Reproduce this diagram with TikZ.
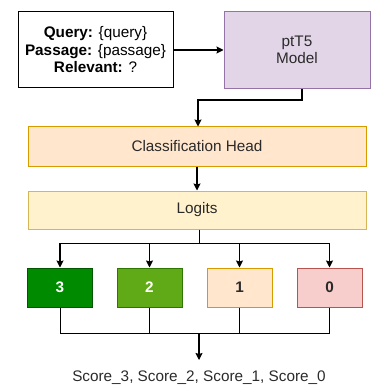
\documentclass[tikz,border=0pt]{standalone}
\usepackage{fontspec}
\setmainfont{Liberation Sans}
\usetikzlibrary{arrows.meta}
\definecolor{lavfill}{HTML}{E1D5E7}
\definecolor{lavline}{HTML}{9673A6}
\definecolor{orfill}{HTML}{FFE6CC}
\definecolor{orline}{HTML}{D79B00}
\definecolor{yefill}{HTML}{FFF2CC}
\definecolor{yeline}{HTML}{D6B656}
\definecolor{gdfill}{HTML}{008A00}
\definecolor{gdline}{HTML}{005700}
\definecolor{glfill}{HTML}{60A917}
\definecolor{glline}{HTML}{2D7600}
\definecolor{rdfill}{HTML}{F8CECC}
\definecolor{rdline}{HTML}{B85450}
\definecolor{txt}{HTML}{2A2A2A}
\tikzset{
  box/.style={draw, line width=1pt, inner sep=0pt, align=center, font=\fontsize{15.3}{17.5}\selectfont, text=txt},
  numbox/.style={box, minimum width=65pt, minimum height=39pt, font=\fontsize{15.3}{17.5}\selectfont\bfseries},
  conn/.style={line width=1.1pt, -{Stealth[length=7pt,width=7pt,inset=1pt]}},
  plain/.style={line width=1pt},
}
\begin{document}
\begin{tikzpicture}[x=1pt,y=-1pt]
\useasboundingbox (0,0) rectangle (372,390);
% input
\node[box, draw=black, text=black, minimum width=155pt, minimum height=76pt] (inp) at (95.5,50)
  {\textbf{Query:} \{query\}\\ \textbf{Passage:} \{passage\}\\ \textbf{Relevant:} ?};
\node[box, fill=lavfill, draw=lavline, minimum width=146pt, minimum height=77pt] (pt) at (297,50) {ptT5\\Model};
\node[box, fill=orfill, draw=orline, minimum width=338pt, minimum height=39pt] (ch) at (197,146.5) {Classification Head};
\node[box, fill=yefill, draw=yeline, minimum width=338pt, minimum height=38pt] (lg) at (197,210) {Logits};
\node[numbox, fill=gdfill, draw=gdline, text=white] (s3) at (60,287.5) {3};
\node[numbox, fill=glfill, draw=glline, text=white] (s2) at (149.5,287.5) {2};
\node[numbox, fill=orfill, draw=orline] (s1) at (239.5,287.5) {1};
\node[numbox, fill=rdfill, draw=rdline] (s0) at (329.5,287.5) {0};
\node[font=\fontsize{15.3}{17.5}\selectfont, text=txt, inner sep=0pt] (out) at (199,378) {Score\_3, Score\_2, Score\_1, Score\_0};
\coordinate (top) at (199,243);
\coordinate (bot) at (199,333);
\coordinate (outtip) at (199,360);
% connectors
\draw[conn] (inp.east) -- (pt.west);
\draw[conn] (pt.south -| 302,0) -- (302,100) -- (198,100) -- (ch.north -| 198,0);
\draw[conn] (ch.south -| 197,0) -- (lg.north -| 197,0);
\draw[plain] (lg.south -| top) -- (top);
\draw[plain] (s3.center |- top) -- (s0.center |- top);
\foreach \n in {s3,s2,s1,s0}{
  \draw[conn] (\n.center |- top) -- (\n.north);
  \draw[plain] (\n.south) -- (\n.center |- bot);
}
\draw[plain] (s3.center |- bot) -- (s0.center |- bot);
\draw[conn] (bot) -- (outtip);
\end{tikzpicture}
\end{document}
